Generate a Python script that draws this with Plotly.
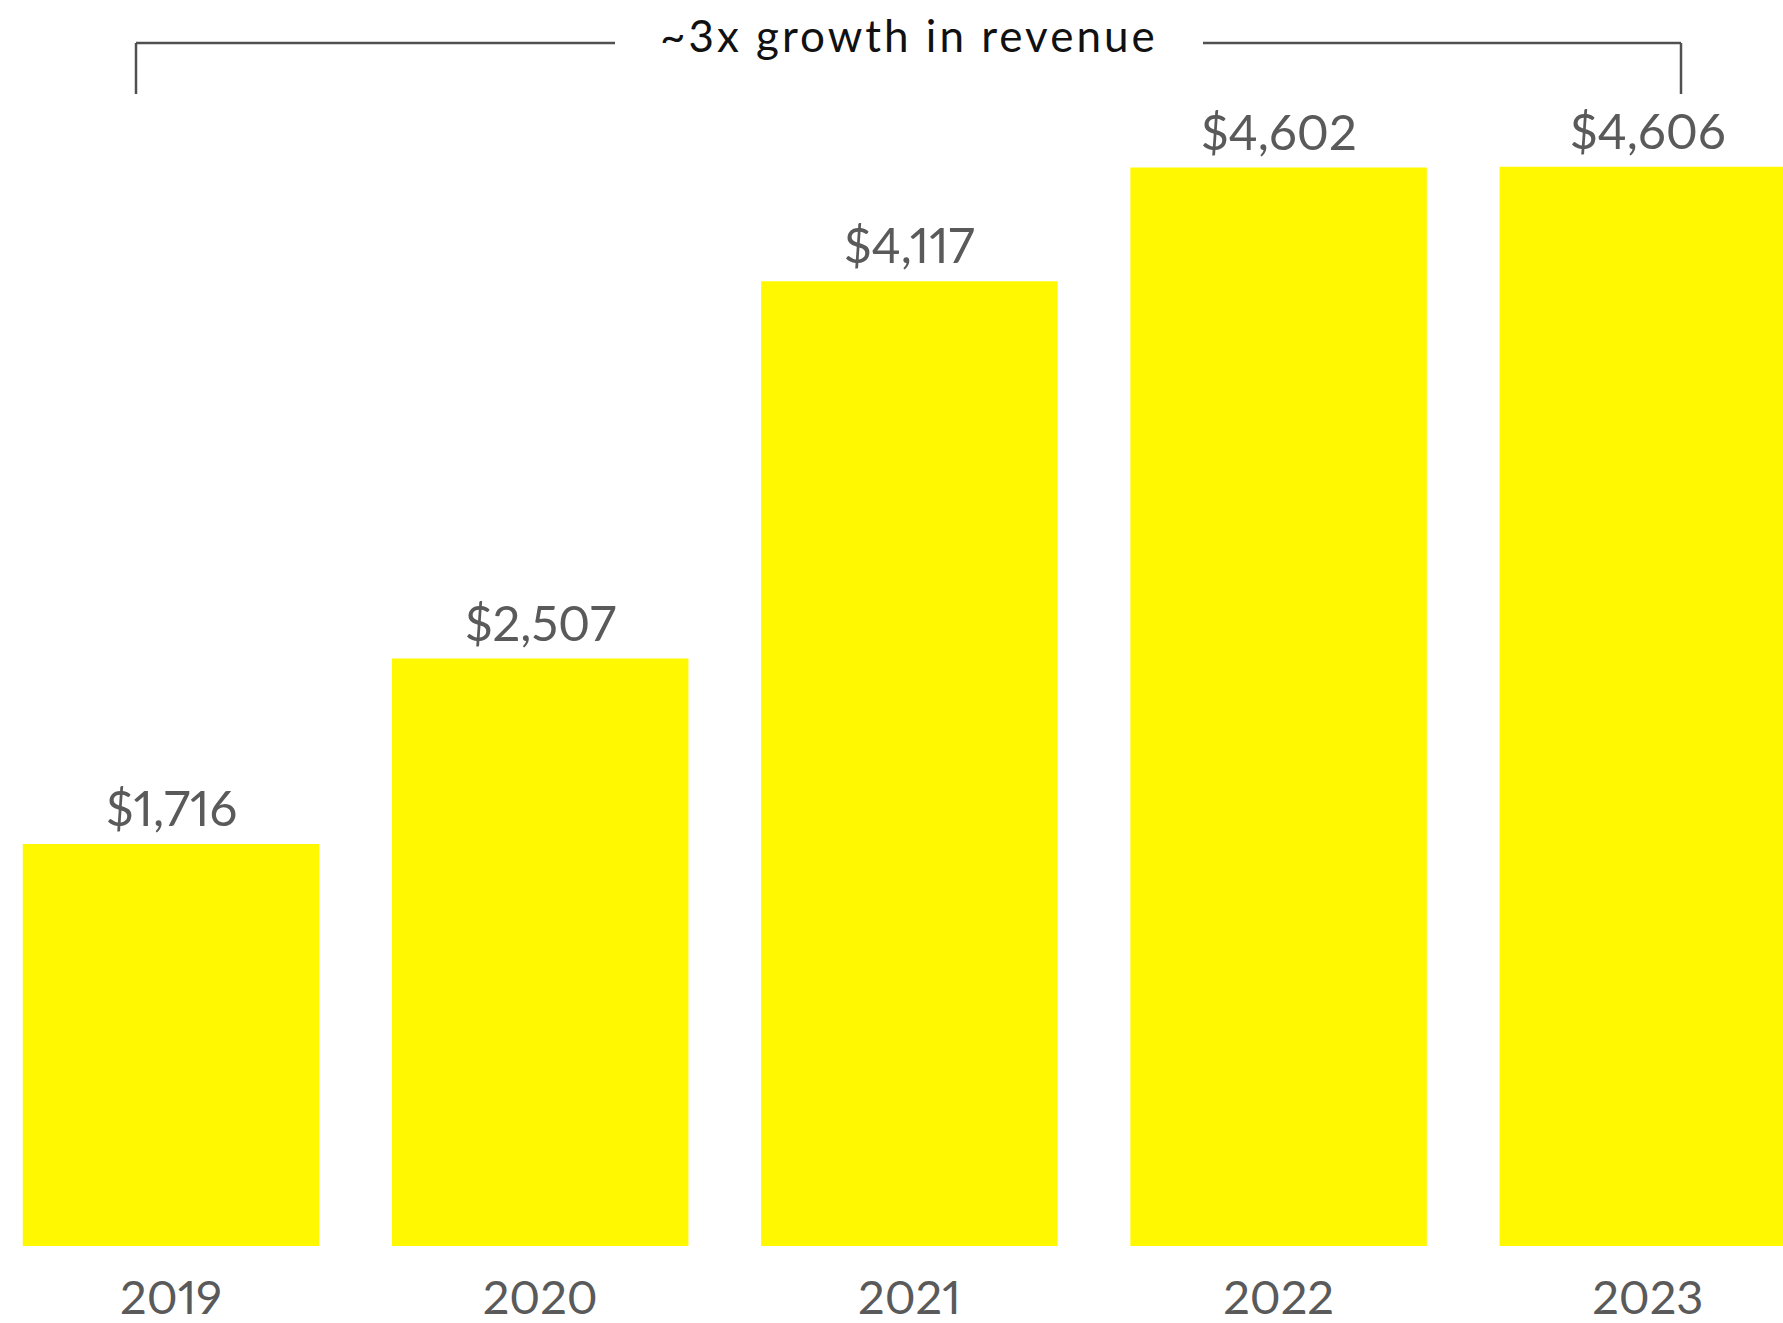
import plotly.graph_objects as go

# Annual revenue ($ millions)
years = ["2019", "2020", "2021", "2022", "2023"]
revenue = [1716, 2507, 4117, 4602, 4606]
headline = "~3x growth in revenue"

W, H = 1783, 1323
BOTTOM = 77                     # space under the baseline for the year labels
PLOT_H = H - BOTTOM
PX_PER_UNIT = 0.23433           # vertical scale of the bars
PITCH = 369.2                   # px between bar centres
FIRST_CENTER = 171.0            # px of the first bar centre

xs = list(range(len(years)))
x_lo = -FIRST_CENTER / PITCH
x_hi = (W - FIRST_CENTER) / PITCH
y_hi = PLOT_H / PX_PER_UNIT

LABEL_GRAY = "#5a5a5a"
YELLOW = "#FFF800"
PNUM = "font-variant-numeric:proportional-nums;font-feature-settings:'pnum' 1"


def styled(s, extra=""):
    return f'<span style="{PNUM};{extra}">{s}</span>'


fig = go.Figure(
    go.Bar(
        x=xs,
        y=revenue,
        width=0.803,
        marker=dict(color=YELLOW, line=dict(width=0)),
        hoverinfo="skip",
    )
)

# Value labels above each bar
for xi, v in zip(xs, revenue):
    fig.add_annotation(
        x=xi, y=v, xref="x", yref="y",
        text=styled(f"${v:,}"),
        showarrow=False,
        xanchor="center", yanchor="bottom",
        yshift=6,
        font=dict(family="Lato", size=49, color=LABEL_GRAY),
    )


def px_x(p):
    return p / W


def px_y(p):
    return (PLOT_H - p) / PLOT_H


# Bracket spanning all years, broken in the middle for the headline
line = dict(color="#505050", width=2.5)
bracket_y = 43
bracket_drop = 94
left_x, right_x = 136, 1681
gap_l, gap_r = 615, 1203
shapes = [
    dict(type="line", xref="paper", yref="paper",
         x0=px_x(left_x), x1=px_x(left_x), y0=px_y(bracket_drop), y1=px_y(bracket_y), line=line),
    dict(type="line", xref="paper", yref="paper",
         x0=px_x(left_x), x1=px_x(gap_l), y0=px_y(bracket_y), y1=px_y(bracket_y), line=line),
    dict(type="line", xref="paper", yref="paper",
         x0=px_x(gap_r), x1=px_x(right_x), y0=px_y(bracket_y), y1=px_y(bracket_y), line=line),
    dict(type="line", xref="paper", yref="paper",
         x0=px_x(right_x), x1=px_x(right_x), y0=px_y(bracket_drop), y1=px_y(bracket_y), line=line),
]

fig.add_annotation(
    xref="paper", yref="paper",
    x=px_x(908.5), y=px_y(35),
    xanchor="center", yanchor="middle",
    text=styled(headline, "letter-spacing:3px"),
    showarrow=False,
    font=dict(family="Lato", size=44, color="#111111"),
)

fig.update_layout(
    width=W, height=H,
    margin=dict(l=0, r=0, t=0, b=BOTTOM, pad=0),
    paper_bgcolor="white",
    plot_bgcolor="white",
    showlegend=False,
    shapes=shapes,
    xaxis=dict(
        range=[x_lo, x_hi],
        tickvals=xs,
        ticktext=[styled(y) for y in years],
        showgrid=False, zeroline=False, showline=False, ticks="",
        tickfont=dict(family="Lato", size=47, color=LABEL_GRAY),
        ticklabelstandoff=20,
        fixedrange=True,
    ),
    yaxis=dict(
        range=[0, y_hi],
        visible=False,
        showgrid=False, zeroline=False,
        fixedrange=True,
    ),
)

fig.write_html("out.html", config={"displayModeBar": False})
